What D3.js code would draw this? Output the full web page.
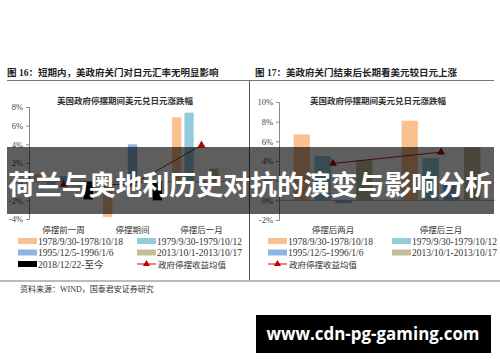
<!DOCTYPE html>
<html>
<head>
<meta charset="utf-8">
<script src="https://cdn.jsdelivr.net/npm/d3@7"></script>
<style>
  body { margin:0; background:#fff; }
  svg { display:block; }
</style>
</head>
<body>
<svg id="chart" width="500" height="362"></svg>
<script>
// data (percent)
let seriesNames = ["1978/9/30-1978/10/18","1979/9/30-1979/10/12","1995/12/5-1996/1/6","2013/10/1-2013/10/17","2018/12/22-至今"]
let seriesColors = ["#FAC090","#93CDDD","#8DB4E2","#C4BD97","#000000"]
let meanName = "政府停摆收益均值"

let categoriesL = ["停摆前一周","停摆期间","停摆后一月"]
let s1978L = [0.8, -3.8, 6.9]
let s1979L = [-0.5, 0.5, 7.4]
let s1995L = [0.6, 4.0, -0.1]
let s2013L = [-0.5, -0.2, 1.4]
let s2018L = [-1.9, -2.0, null]
let meanL = [-0.3, -0.3, 3.9]
let ticksL = [-4, -2, 0, 2, 4, 6, 8]

let categoriesR = ["停摆后两月","停摆后三月"]
let s1978R = [6.7, 8.1]
let s1979R = [4.5, 4.3]
let s1995R = [-0.3, 1.8]
let s2013R = [4.1, 5.4]
let meanR = [3.75, 4.9]
let ticksR = [-2, 0, 2, 4, 6, 8, 10]

let serif = "'Liberation Serif','Noto Sans CJK SC',serif"
let cjk = "'Noto Sans CJK SC',sans-serif"
let svg = d3.select("#chart")

// frame rules
svg.append("line").attr("x1",7).attr("x2",494).attr("y1",80.5).attr("y2",80.5).attr("stroke","#777").attr("stroke-width",1)
svg.append("line").attr("x1",249.5).attr("x2",249.5).attr("y1",81).attr("y2",281).attr("stroke","#555").attr("stroke-width",1)
svg.append("line").attr("x1",0).attr("x2",500).attr("y1",281).attr("y2",281).attr("stroke","#bbb").attr("stroke-width",2)

svg.append("text").attr("x",7).attr("y",76).attr("font-family",serif).attr("font-size",9.5).attr("font-weight","bold").attr("fill","#222")
   .text("图 16：短期内，美政府关门对日元汇率无明显影响")
svg.append("text").attr("x",255).attr("y",76).attr("font-family",serif).attr("font-size",9.5).attr("font-weight","bold").attr("fill","#222")
   .text("图 17：美政府关门结束后长期看美元较日元上涨")
svg.append("text").attr("x",20).attr("y",292).attr("font-family",serif).attr("font-size",8).attr("fill","#333")
   .text("资料来源：WIND，国泰君安证券研究")

function drawChart(opt){
  let g = svg.append("g")
  let y = d3.scaleLinear().domain(opt.domain).range(opt.yRange)
  let x0 = d3.scaleBand().domain(opt.categories).range(opt.xRange).paddingInner(0).paddingOuter(0)
  let x1 = d3.scaleBand().domain(d3.range(opt.series.length)).range([0, x0.bandwidth()])
             .paddingInner(opt.barPad).paddingOuter(opt.groupPad)

  g.append("text").attr("x",opt.titleX).attr("y",104).attr("text-anchor","middle")
   .attr("font-family",cjk).attr("font-size",8.5).attr("font-weight","bold").attr("fill","#333")
   .text("美国政府停摆期间美元兑日元涨跌幅")

  // y axis
  let yAxis = g.append("g").attr("transform","translate("+opt.xRange[0]+",0)")
     .call(d3.axisLeft(y).tickValues(opt.ticks).tickSize(3).tickPadding(3).tickFormat(d => d + "%"))
  yAxis.select(".domain").attr("stroke","#888")
  yAxis.selectAll(".tick line").attr("stroke","#888")
  yAxis.selectAll(".tick text").attr("font-family",serif).attr("font-size",8.5).attr("fill","#444")

  // zero line
  g.append("line").attr("x1",opt.xRange[0]).attr("x2",opt.xRange[1])
   .attr("y1",y(0)).attr("y2",y(0)).attr("stroke","#999").attr("stroke-width",0.8)

  // bars
  opt.series.forEach(function(vals, si){
    g.selectAll("rect.s"+si)
     .data(vals.map((v,i) => ({v:v, c:opt.categories[i]})).filter(d => d.v != null))
     .enter().append("rect")
     .attr("class","s"+si)
     .attr("x", d => x0(d.c) + x1(si))
     .attr("width", x1.bandwidth())
     .attr("y", d => y(Math.max(0,d.v)))
     .attr("height", d => Math.abs(y(d.v) - y(0)))
     .attr("fill", seriesColors[si])
  })

  // mean line with triangles
  let pts = opt.mean.map((v,i) => [x0(opt.categories[i]) + x0.bandwidth()/2, y(v)])
  g.append("path").attr("d", d3.line()(pts)).attr("fill","none").attr("stroke","#A01010").attr("stroke-width",0.9)
  g.selectAll("path.tri").data(pts).enter().append("path").attr("class","tri")
   .attr("d", d3.symbol().type(d3.symbolTriangle).size(28))
   .attr("transform", d => "translate("+d[0]+","+d[1]+")")
   .attr("fill","#C00000")

  // category labels
  g.selectAll("text.cat").data(opt.categories).enter().append("text").attr("class","cat")
   .attr("x", d => x0(d) + x0.bandwidth()/2).attr("y",233).attr("text-anchor","middle")
   .attr("font-family",cjk).attr("font-size",8.5).attr("fill","#333").text(d => d)

  // legend
  let rowH = 11.5
  opt.legend.forEach(function(item, k){
    let col = k % 2, row = Math.floor(k / 2)
    let lx = opt.legendX[col], ly = 241 + row*rowH
    if (item == "mean") {
      g.append("line").attr("x1",lx).attr("x2",lx+19).attr("y1",ly).attr("y2",ly).attr("stroke","#E00000").attr("stroke-width",1)
      g.append("path").attr("d", d3.symbol().type(d3.symbolTriangle).size(22))
       .attr("transform","translate("+(lx+9.5)+","+ly+")").attr("fill","#C00000")
      g.append("text").attr("x",lx+21).attr("y",ly+3.5).attr("font-family",cjk).attr("font-size",8.5).attr("fill","#333").text(meanName)
    } else {
      g.append("rect").attr("x",lx).attr("y",ly-3).attr("width",19).attr("height",6).attr("fill",seriesColors[item])
      g.append("text").attr("x",lx+20).attr("y",ly+3.5).attr("font-family",serif).attr("font-size",9.5).attr("fill","#333").text(seriesNames[item])
    }
  })
}

drawChart({
  categories: categoriesL, series: [s1978L, s1979L, s1995L, s2013L, s2018L], mean: meanL,
  domain: [-4, 8], yRange: [219, 107], xRange: [29, 236], ticks: ticksL,
  barPad: 0.25, groupPad: 0.4, titleX: 125,
  legend: [0, 1, 2, 3, 4, "mean"], legendX: [18, 137]
})

drawChart({
  categories: categoriesR, series: [s1978R, s1979R, s1995R, s2013R], mean: meanR,
  domain: [-2, 10], yRange: [220, 102], xRange: [279, 495], ticks: ticksR,
  barPad: 0.22, groupPad: 0.7, titleX: 378,
  legend: [0, 1, 2, 3, "mean"], legendX: [268, 392]
})

// overlay banner
svg.append("rect").attr("x",7).attr("y",147).attr("width",487).attr("height",67).attr("fill","#000").attr("fill-opacity",0.63)
svg.append("text").attr("x",250).attr("y",195).attr("text-anchor","middle")
   .attr("font-family",cjk).attr("font-size",27).attr("font-weight","bold").attr("fill","#fff")
   .attr("textLength",484).attr("lengthAdjust","spacingAndGlyphs")
   .text("荷兰与奥地利历史对抗的演变与影响分析")

// watermark
svg.append("rect").attr("x",256).attr("y",315).attr("width",235).attr("height",38).attr("fill","#000")
svg.append("text").attr("x",373).attr("y",340).attr("text-anchor","middle")
   .attr("font-family","'Open Sans','DejaVu Sans',sans-serif").attr("font-size",17).attr("font-weight","bold").attr("fill","#fff")
   .attr("textLength",213).attr("lengthAdjust","spacingAndGlyphs")
   .text("www.cdn-pg-gaming.com")
</script>
</body>
</html>
